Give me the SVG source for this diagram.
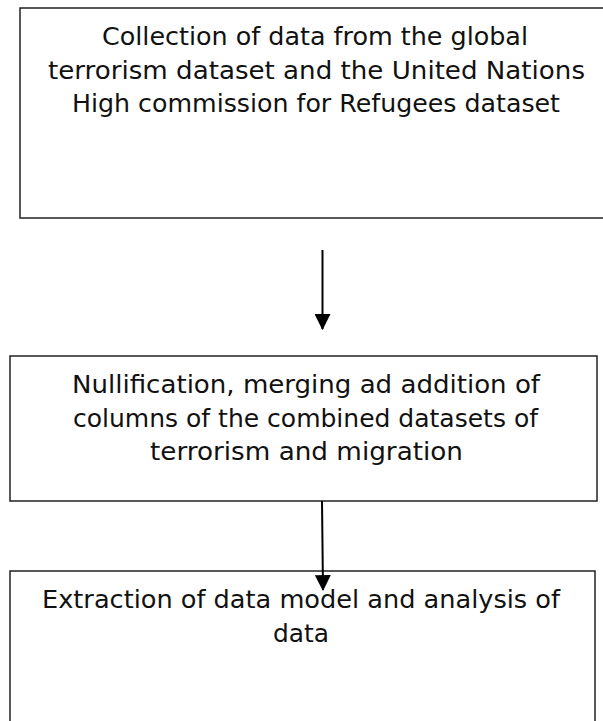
<svg xmlns="http://www.w3.org/2000/svg" width="603" height="721" viewBox="0 0 603 721">
<style>
.box{fill:#fff;stroke:#222;stroke-width:1.5}
.t{font-family:"DejaVu Sans","Liberation Sans",sans-serif;font-size:24px;fill:#111;text-anchor:middle}
.c{stroke:#000;stroke-width:2;fill:none}
</style>
<defs>
<marker id="ah" markerUnits="userSpaceOnUse" markerWidth="16" markerHeight="16" refX="14" refY="7.5" orient="auto" viewBox="0 0 15 15">
<path d="M0,0 L15,7.5 L0,15 z" fill="#000"/>
</marker>
</defs>
<rect width="603" height="721" fill="#fff"/>
<g id="node1">
<rect class="box" x="20" y="8" width="600" height="210"/>
<text class="t" x="315" y="45" textLength="426" lengthAdjust="spacingAndGlyphs">Collection of data from the global</text>
<text class="t" x="316.5" y="78.5" textLength="537" lengthAdjust="spacingAndGlyphs">terrorism dataset and the United Nations</text>
<text class="t" x="316" y="112" textLength="488" lengthAdjust="spacingAndGlyphs">High commission for Refugees dataset</text>
</g>
<g id="node2">
<rect class="box" x="10" y="356" width="587" height="145"/>
<text class="t" x="306" y="393" textLength="468" lengthAdjust="spacingAndGlyphs">Nullification, merging ad addition of</text>
<text class="t" x="305.5" y="427" textLength="465" lengthAdjust="spacingAndGlyphs">columns of the combined datasets of</text>
<text class="t" x="306.5" y="460" textLength="313" lengthAdjust="spacingAndGlyphs">terrorism and migration</text>
</g>
<g id="node3">
<rect class="box" x="10" y="571" width="585" height="200"/>
<text class="t" x="301" y="608" textLength="518" lengthAdjust="spacingAndGlyphs">Extraction of data model and analysis of</text>
<text class="t" x="301" y="641.5" textLength="56" lengthAdjust="spacingAndGlyphs">data</text>
</g>
<g id="connectors">
<line class="c" x1="322.5" y1="250" x2="322.5" y2="329" marker-end="url(#ah)"/>
<line class="c" x1="322" y1="501" x2="323" y2="590" marker-end="url(#ah)"/>
</g>
</svg>
